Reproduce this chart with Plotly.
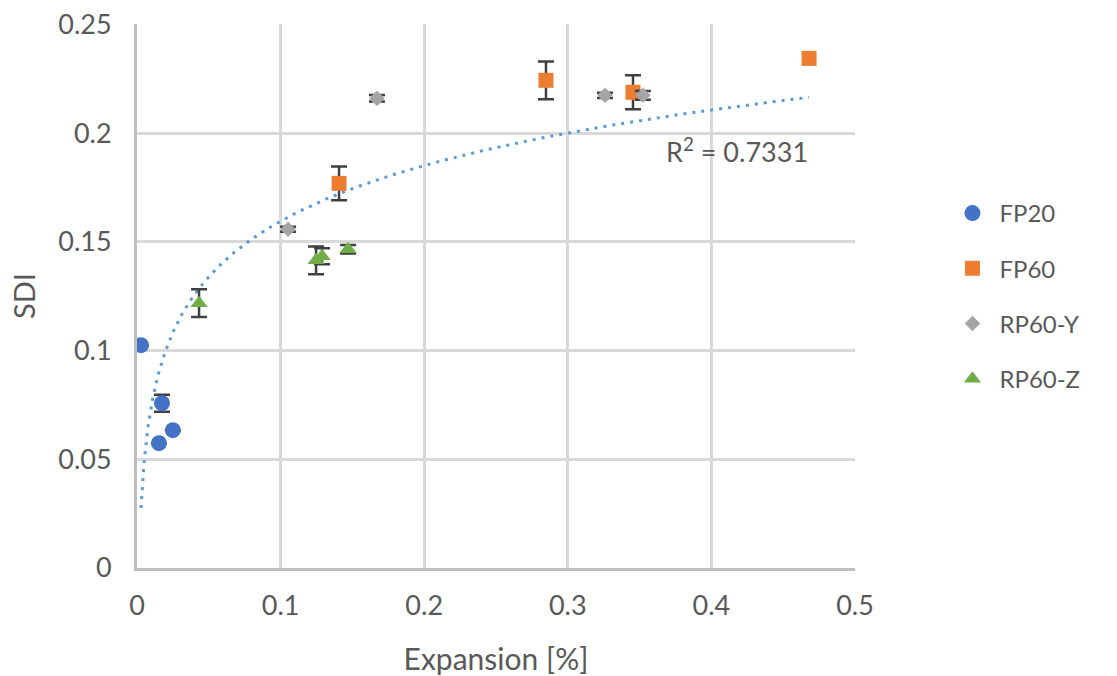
import numpy as np
import plotly.graph_objects as go

# ---- data ----
fp20_x = [0.0028, 0.0174, 0.0153, 0.0250]
fp20_y = [0.1025, 0.0758, 0.0574, 0.0634]
fp20_err = [0.0, 0.0039, 0.0, 0.0]

# FP60: first three points carry error bars, the last one has none
fp60_x = [0.1407, 0.2848, 0.3454]
fp60_y = [0.1769, 0.2243, 0.2188]
fp60_err = [0.0078, 0.0087, 0.0078]
fp60_noerr_x = [0.4680]
fp60_noerr_y = [0.2344]

rp60y_x = [0.1052, 0.1671, 0.3259, 0.3523]
rp60y_y = [0.1558, 0.2160, 0.2174, 0.2174]
rp60y_err = [0.0012, 0.0015, 0.0012, 0.0020]

rp60z_x = [0.0432, 0.1247, 0.1289, 0.1470]
rp60z_y = [0.1218, 0.1415, 0.1434, 0.1466]
rp60z_err = [0.0064, 0.0064, 0.0037, 0.0020]

# logarithmic trendline y = a*ln(x) + b (coefficients)
trend_a = 0.0369
trend_b = 0.2445
r2_text = "R<sup>2</sup> = 0.7331"

x_ticks = [0, 0.1, 0.2, 0.3, 0.4, 0.5]
x_tick_labels = ["0", "0.1", "0.2", "0.3", "0.4", "0.5"]
y_ticks = [0, 0.05, 0.1, 0.15, 0.2, 0.25]
y_tick_labels = ["0", "0.05", "0.1", "0.15", "0.2", "0.25"]

FONT = "Lato"
TXT = "#595959"

all_x = fp20_x + fp60_x + fp60_noerr_x + rp60y_x + rp60z_x
tx = np.geomspace(min(all_x), max(all_x), 300)
ty = trend_a * np.log(tx) + trend_b

fig = go.Figure()
fig.add_trace(go.Scatter(x=tx, y=ty, mode="lines", showlegend=False,
                         line=dict(color="#5B9BD5", width=3, dash="3px,6px"),
                         hoverinfo="skip"))

err_style = dict(type="data", visible=True, color="#404040", thickness=2.5, width=8)

def add_series(name, xs, ys, errs, symbol, color, size, group, showlegend=True):
    err = dict(array=errs, **err_style) if errs is not None else dict(visible=False)
    fig.add_trace(go.Scatter(
        x=xs, y=ys, mode="markers", name=name, legendgroup=group,
        showlegend=showlegend,
        marker=dict(symbol=symbol, color=color, size=size, line=dict(width=0)),
        error_y=err,
    ))

add_series("FP20", fp20_x, fp20_y, fp20_err, "circle", "#4472C4", 16, "g1")
add_series("FP60", fp60_x, fp60_y, fp60_err, "square", "#ED7D31", 15, "g2")
add_series("FP60", fp60_noerr_x, fp60_noerr_y, None, "square", "#ED7D31", 15, "g2",
           showlegend=False)
add_series("RP60-Y", rp60y_x, rp60y_y, rp60y_err, "diamond", "#A5A5A5", 12, "g3")
add_series("RP60-Z", rp60z_x, rp60z_y, rp60z_err, "triangle-up", "#70AD47", 15, "g4")

fig.add_annotation(x=0.4178, y=0.1921, xref="x", yref="y", text=r2_text,
                   showarrow=False, font=dict(family=FONT, size=27, color=TXT))

fig.update_layout(
    width=1117, height=676,
    margin=dict(l=137, r=262, t=24, b=108, autoexpand=False),
    paper_bgcolor="white", plot_bgcolor="white",
    font=dict(family=FONT, size=26, color=TXT),
    legend=dict(x=1.126, y=0.5, xanchor="left", yanchor="middle",
                traceorder="grouped", tracegroupgap=21, itemwidth=44,
                font=dict(family=FONT, size=24, color=TXT)),
    xaxis=dict(range=[0, 0.5], tickvals=x_ticks, ticktext=x_tick_labels,
               automargin=False, ticklabeloverflow="allow",
               showgrid=True, gridcolor="#D9D9D9", gridwidth=2.5,
               showline=True, linecolor="#BFBFBF", linewidth=3,
               zeroline=False, ticks="", ticklen=0, ticklabelstandoff=12,
               tickfont=dict(family=FONT, size=27, color=TXT),
               title=dict(text="Expansion [%]", standoff=32,
                          font=dict(family=FONT, size=30, color=TXT))),
    yaxis=dict(range=[0, 0.2502], tickvals=y_ticks, ticktext=y_tick_labels,
               automargin=False, ticklabeloverflow="allow",
               showgrid=True, gridcolor="#D9D9D9", gridwidth=2.5,
               showline=True, linecolor="#BFBFBF", linewidth=3,
               zeroline=False, ticks="", ticklen=0, ticklabelstandoff=17,
               tickfont=dict(family=FONT, size=27, color=TXT),
               title=dict(text="SDI", standoff=15,
                          font=dict(family=FONT, size=29, color=TXT))),
)

fig.write_html("out.html", config={"displayModeBar": False},
               post_script="document.body.style.margin = '0px';")
